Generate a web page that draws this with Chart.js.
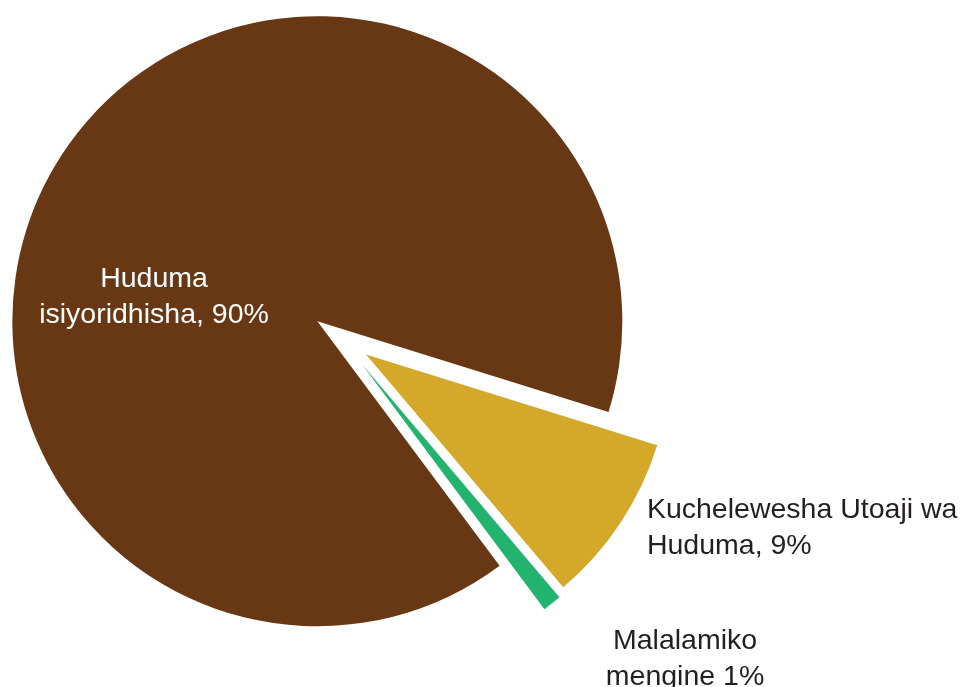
<!DOCTYPE html>
<html>
<head>
<meta charset="utf-8">
<script src="https://cdn.jsdelivr.net/npm/chart.js@4/dist/chart.umd.min.js"></script>
<style>
  html, body { margin: 0; padding: 0; background: #ffffff; }
  #wrap { width: 965px; height: 687px; }
</style>
</head>
<body>
<div id="wrap"><canvas id="c" width="965" height="687"></canvas></div>
<script>
// ---- data ----
const categories = ['Huduma isiyoridhisha', 'Kuchelewesha Utoaji wa Huduma', 'Malalamiko mengine'];
const values = [90, 9, 1];
const labelLines = [
  ['Huduma', 'isiyoridhisha, 90%'],
  ['Kuchelewesha Utoaji wa', 'Huduma, 9%'],
  ['Malalamiko', 'mengine 1%']
];

// ---- style ----
const colors = ['#683815', '#D4A92A', '#22B36E'];
const explode = [29, 30, 34];   // pixel shift of each slice along its mid-angle
const labelStyle = [
  { fx: -0.613, fy: -0.167, align: 'center', color: '#ffffff' },
  { fx: 1.003, fy: 0.590, align: 'left', color: '#231F20' },
  { fx: 1.128, fy: 1.020, align: 'center', color: '#231F20' }
];
const FONT = '28.5px "Liberation Sans", Arial, Helvetica, sans-serif';
const LINE_H = 36;

// draw each slice with a plain translation (exploded pie) without radius growth
const explodePlugin = {
  id: 'explode',
  beforeDatasetDraw(chart, args) {
    const ctx = chart.ctx;
    args.meta.data.forEach((arc, i) => {
      const mid = (arc.startAngle + arc.endAngle) / 2;
      ctx.save();
      ctx.translate(Math.cos(mid) * explode[i], Math.sin(mid) * explode[i]);
      arc.draw(ctx);
      ctx.restore();
    });
    return false;
  }
};

const labelPlugin = {
  id: 'sliceLabels',
  afterDatasetsDraw(chart) {
    const meta = chart.getDatasetMeta(0);
    const ctx = chart.ctx;
    ctx.save();
    ctx.font = FONT;
    ctx.textBaseline = 'alphabetic';
    meta.data.forEach((arc, i) => {
      const s = labelStyle[i];
      const r = arc.outerRadius;
      const x = arc.x + s.fx * r;
      const y = arc.y + s.fy * r;
      ctx.fillStyle = s.color;
      ctx.textAlign = s.align;
      labelLines[i].forEach((t, k) => ctx.fillText(t, x, y + k * LINE_H));
    });
    ctx.restore();
  }
};

new Chart(document.getElementById('c'), {
  type: 'pie',
  data: {
    labels: categories,
    datasets: [{
      data: values,
      backgroundColor: colors,
      borderWidth: 0,
      offset: 0,
      radius: 305
    }]
  },
  options: {
    responsive: false,
    animation: false,
    rotation: 143.3,
    radius: 305,
    layout: { padding: { left: 0, right: 283, top: 0, bottom: 11 } },
    plugins: {
      legend: { display: false },
      tooltip: { enabled: false }
    }
  },
  plugins: [explodePlugin, labelPlugin]
});
</script>
</body>
</html>
